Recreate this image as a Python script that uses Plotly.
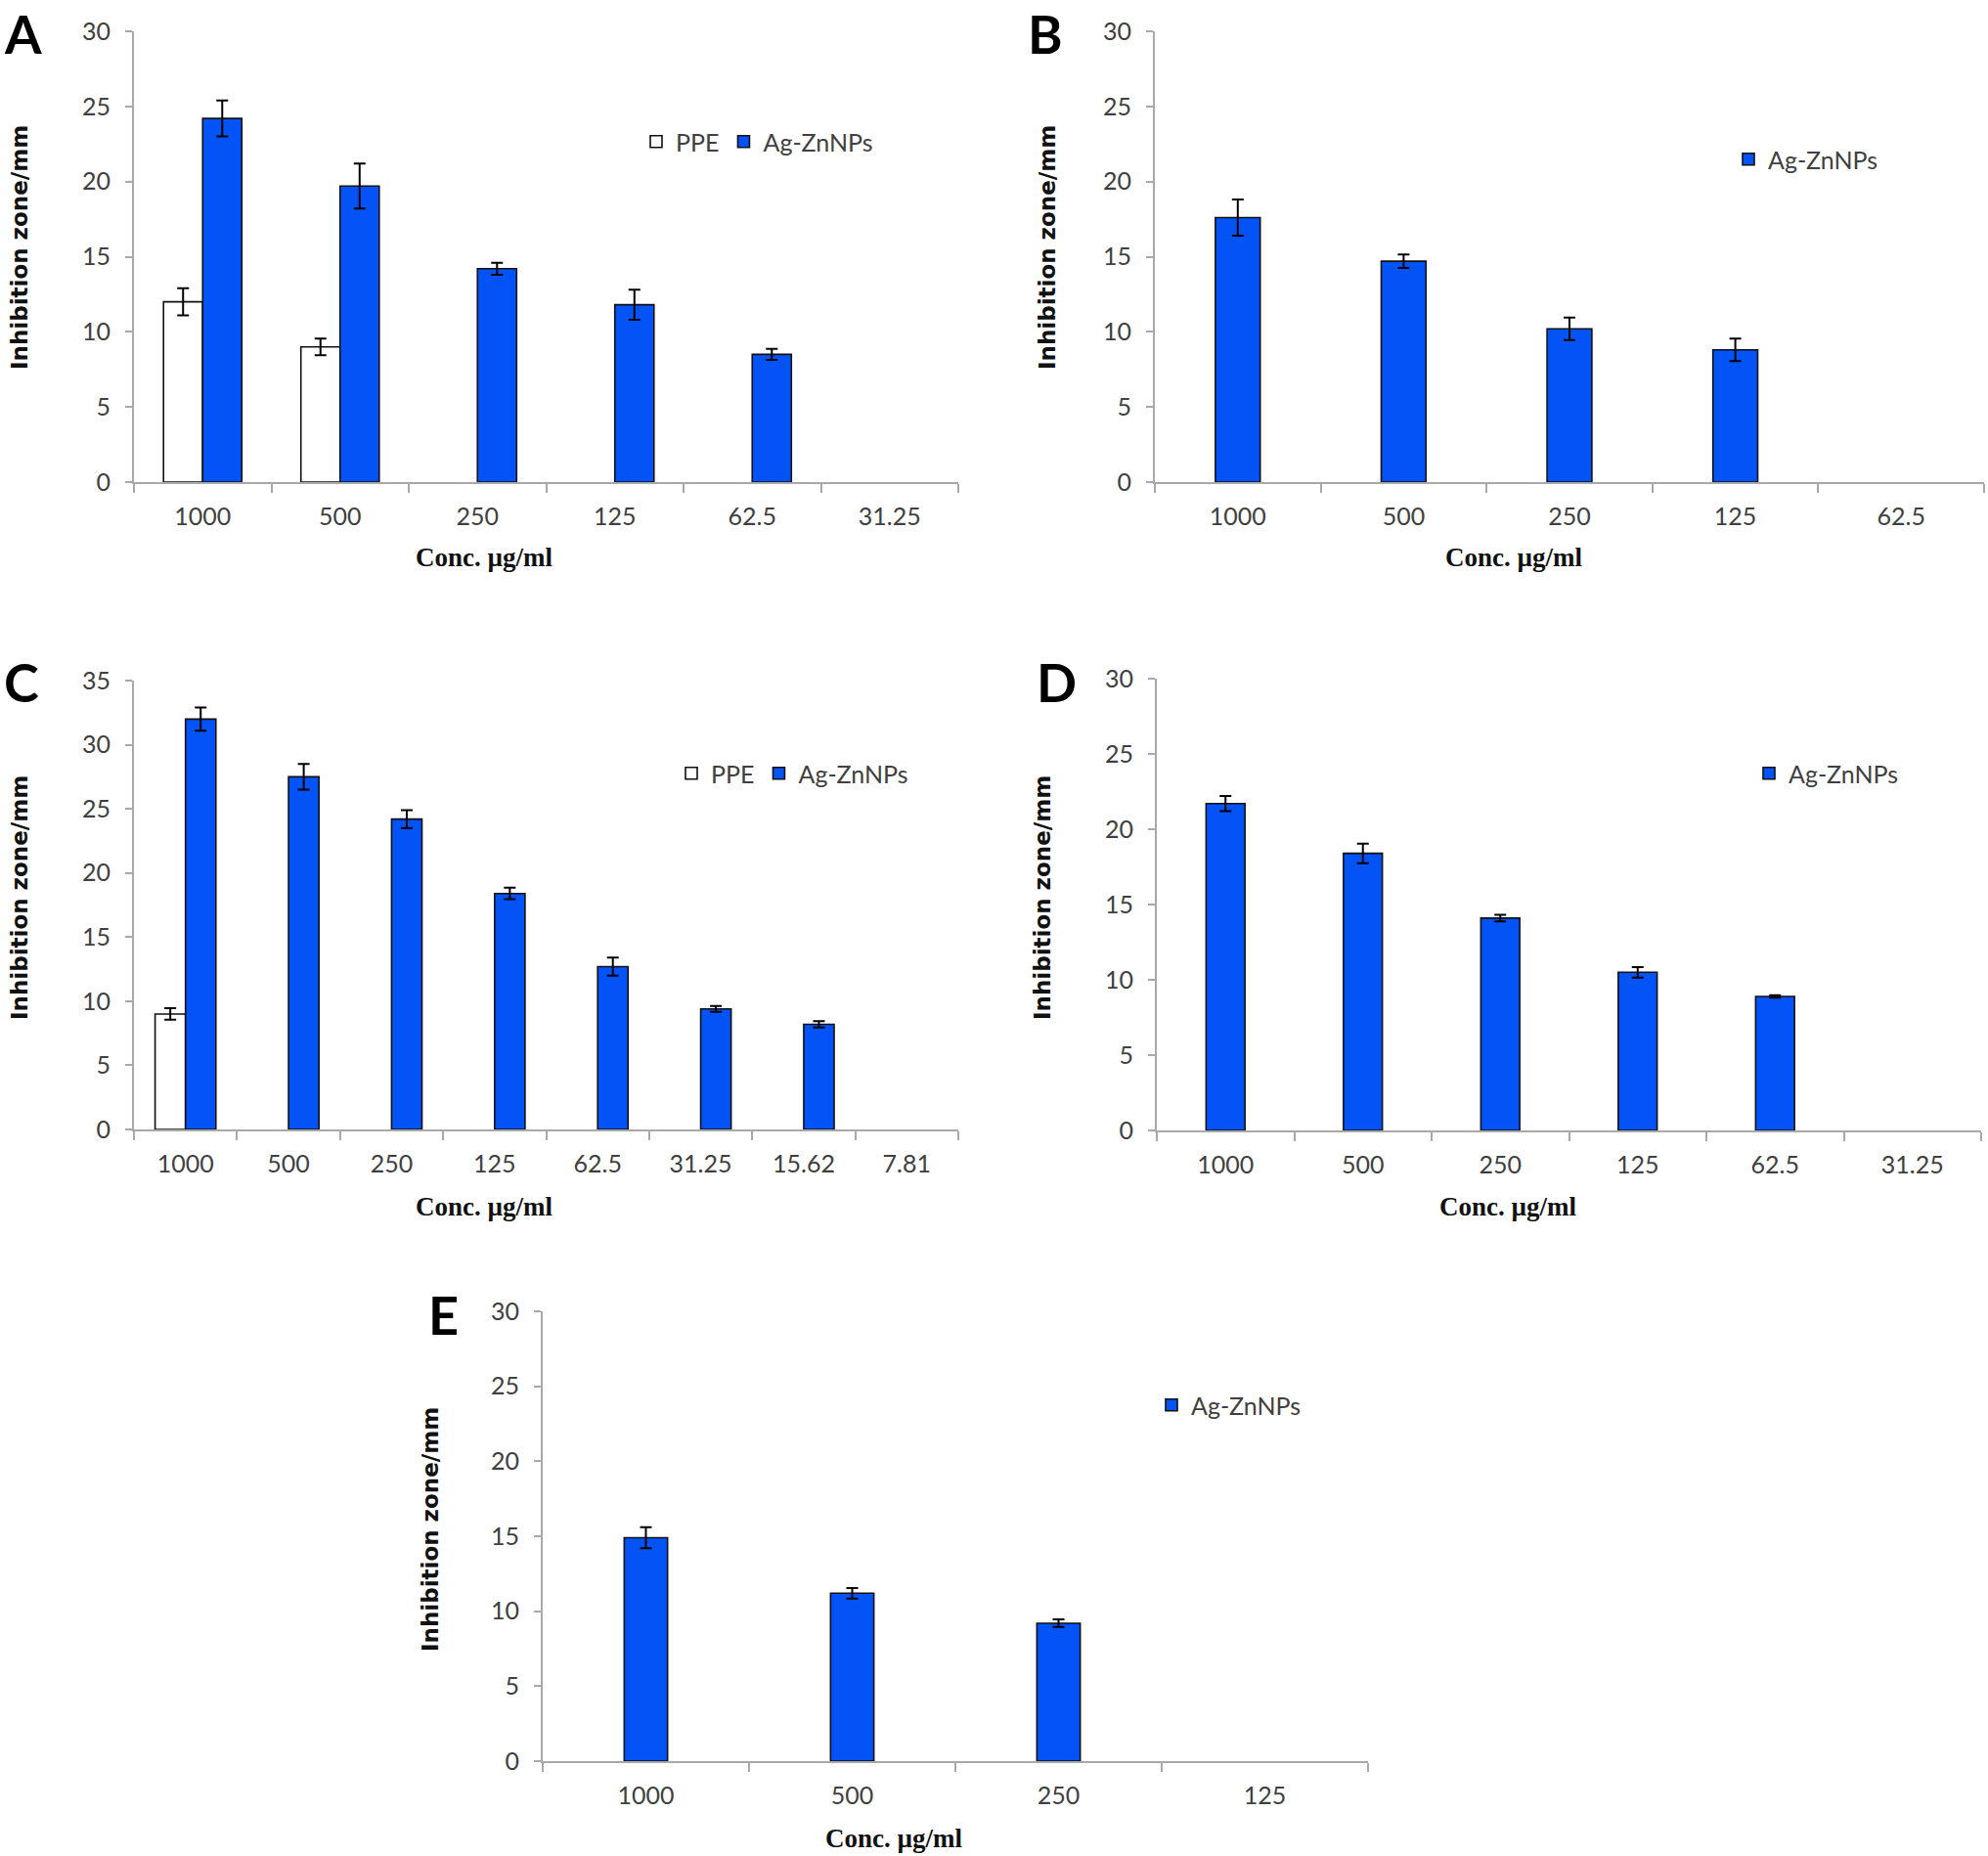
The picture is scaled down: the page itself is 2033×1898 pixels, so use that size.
import plotly.graph_objects as go

# ---------------- data ----------------
cats_A = ["1000", "500", "250", "125", "62.5", "31.25"]
ppe_A = [12.0, 9.0, 0, 0, 0, 0]
ppe_A_err = [0.9, 0.55, 0, 0, 0, 0]
ag_A = [24.2, 19.7, 14.2, 11.8, 8.5, 0]
ag_A_err = [1.2, 1.5, 0.4, 1.0, 0.37, 0]

cats_B = ["1000", "500", "250", "125", "62.5"]
ag_B = [17.6, 14.7, 10.2, 8.8, 0]
ag_B_err = [1.2, 0.45, 0.75, 0.75, 0]

cats_C = ["1000", "500", "250", "125", "62.5", "31.25", "15.62", "7.81"]
ppe_C = [9.0, 0, 0, 0, 0, 0, 0, 0]
ppe_C_err = [0.45, 0, 0, 0, 0, 0, 0, 0]
ag_C = [32.0, 27.5, 24.2, 18.4, 12.7, 9.4, 8.2, 0]
ag_C_err = [0.9, 1.0, 0.7, 0.45, 0.7, 0.23, 0.25, 0]

cats_D = ["1000", "500", "250", "125", "62.5", "31.25"]
ag_D = [21.7, 18.4, 14.1, 10.5, 8.9, 0]
ag_D_err = [0.5, 0.65, 0.22, 0.35, 0.08, 0]

cats_E = ["1000", "500", "250", "125"]
ag_E = [14.9, 11.2, 9.2, 0]
ag_E_err = [0.7, 0.35, 0.25, 0]

y_max = {"A": 30, "B": 30, "C": 35, "D": 30, "E": 30}
panel_letters = ["A", "B", "C", "D", "E"]
x_title = "Conc. µg/ml"
y_title = "Inhibition zone/mm"
name_ppe = "PPE"
name_ag = "Ag-ZnNPs"

# ---------------- geometry (page pixels of reference) ----------------
FW, FH = 2033, 1898


def px(x):
    return min(1.0, max(0.0, x / FW))


def py(y):
    return min(1.0, max(0.0, 1 - y / FH))


BLUE = "#0353F6"
AXC = "#A9A9A9"
TICKFONT = dict(family="Lato, Open Sans, sans-serif", size=25, color="#404040")

# plot boxes: (left, right, top, bottom) in reference pixels
boxes = {
    "A": (137, 980, 32, 493),
    "B": (1181, 2029, 32, 493),
    "C": (137, 980, 696, 1155),
    "D": (1183, 2026, 694, 1156),
    "E": (555, 1399, 1341, 1801),
}
ytitle_pos = {"A": (20, 253), "B": (1071, 253), "C": (20, 918), "D": (1066, 918), "E": (440, 1564)}
xtitle_pos = {"A": (495, 570), "B": (1548, 570), "C": (495, 1234), "D": (1542, 1234), "E": (914, 1880)}
# letter centre x, box-top y (None -> centre y given instead)
letter_pos = {"A": (23, 0, "top"), "B": (1069, 0, "top"), "C": (22, 697, "middle"),
              "D": (1080, 698, "middle"), "E": (453, 1344, "middle")}
legend_pos = {"A": (667, 145), "B": (1784, 163), "C": (703, 791), "D": (1805, 791), "E": (1194, 1437)}

panels = {
    "A": dict(cats=cats_A, series=[(name_ppe, ppe_A, ppe_A_err, "white"), (name_ag, ag_A, ag_A_err, BLUE)], width=0.285),
    "B": dict(cats=cats_B, series=[(name_ag, ag_B, ag_B_err, BLUE)], width=0.27),
    "C": dict(cats=cats_C, series=[(name_ppe, ppe_C, ppe_C_err, "white"), (name_ag, ag_C, ag_C_err, BLUE)], width=0.295),
    "D": dict(cats=cats_D, series=[(name_ag, ag_D, ag_D_err, BLUE)], width=0.283),
    "E": dict(cats=cats_E, series=[(name_ag, ag_E, ag_E_err, BLUE)], width=0.21),
}

fig = go.Figure()
annotations = []
layout = dict(
    width=FW, height=FH, margin=dict(l=0, r=0, t=0, b=0, autoexpand=False),
    paper_bgcolor="white", plot_bgcolor="white", barmode="overlay",
    showlegend=True,
)

for i, key in enumerate(panel_letters, start=1):
    p = panels[key]
    cats = p["cats"]
    n = len(cats)
    xa = "x" if i == 1 else f"x{i}"
    ya = "y" if i == 1 else f"y{i}"
    leg = "legend" if i == 1 else f"legend{i}"
    w = p["width"]
    ns = len(p["series"])
    fig.add_trace(go.Scatter(x=cats, y=[0] * n, mode="markers", marker=dict(opacity=0),
                             showlegend=False, hoverinfo="skip", xaxis=xa, yaxis=ya))
    for j, (nm, vals, errs, col) in enumerate(p["series"]):
        xs = [c for c, v in zip(cats, vals) if v > 0]
        ys = [v for v in vals if v > 0]
        es = [e for v, e in zip(vals, errs) if v > 0]
        offset = -w / 2 if ns == 1 else (-w if j == 0 else 0)
        fig.add_trace(go.Bar(
            x=xs, y=ys, name=nm, width=w, offset=offset,
            marker=dict(color=col, line=dict(color="#111111", width=1.6)),
            error_y=dict(type="data", array=es, visible=True, color="black", thickness=2, width=6),
            xaxis=xa, yaxis=ya, legend=leg,
        ))
    l, r, t, b = boxes[key]
    layout["xaxis" if i == 1 else f"xaxis{i}"] = dict(
        domain=[px(l), px(r)], anchor=ya, type="category",
        categoryorder="array", categoryarray=cats, range=[-0.5, n - 0.5],
        showline=True, linecolor=AXC, linewidth=2, ticks="outside", tickson="boundaries",
        ticklen=9, tickwidth=2, tickcolor=AXC, tickfont=TICKFONT, ticklabelstandoff=12,
        showgrid=False, zeroline=False, fixedrange=True,
    )
    layout["yaxis" if i == 1 else f"yaxis{i}"] = dict(
        domain=[py(b), py(t)], anchor=xa, range=[0, y_max[key]], dtick=5, tick0=0,
        showline=True, linecolor=AXC, linewidth=2, ticks="outside", ticklen=7,
        tickwidth=2, tickcolor=AXC, tickfont=TICKFONT, ticklabelstandoff=10,
        showgrid=False, zeroline=False, fixedrange=True,
    )
    lx, lyc = legend_pos[key]
    layout[leg] = dict(
        x=px(lx - 16), y=py(lyc), xanchor="left", yanchor="middle", orientation="h",
        font=TICKFONT, bgcolor="rgba(0,0,0,0)", itemwidth=30, traceorder="normal",
    )
    tx, ty = ytitle_pos[key]
    annotations.append(dict(text=y_title, x=px(tx), y=py(ty), xref="paper", yref="paper",
                            showarrow=False, textangle=-90, xanchor="center", yanchor="middle",
                            font=dict(family="DejaVu Sans", size=23, color="#111111", weight="bold")))
    tx, ty = xtitle_pos[key]
    annotations.append(dict(text=f"<b>{x_title}</b>", x=px(tx), y=py(ty), xref="paper", yref="paper",
                            showarrow=False, xanchor="center", yanchor="middle",
                            font=dict(family="Liberation Serif", size=27, color="#111111")))
    tx, ty, yanc = letter_pos[key]
    annotations.append(dict(text=f"<b>{key}</b>", x=px(tx), y=py(ty), xref="paper", yref="paper",
                            showarrow=False, xanchor="center", yanchor=yanc,
                            font=dict(family="Lato, Open Sans, sans-serif", size=54, color="black")))

layout["annotations"] = annotations
fig.update_layout(**layout)
fig.write_html(
    "out.html",
    config={"displayModeBar": False},
    post_script="document.body.style.margin='0px';document.body.style.overflow='hidden';",
)
